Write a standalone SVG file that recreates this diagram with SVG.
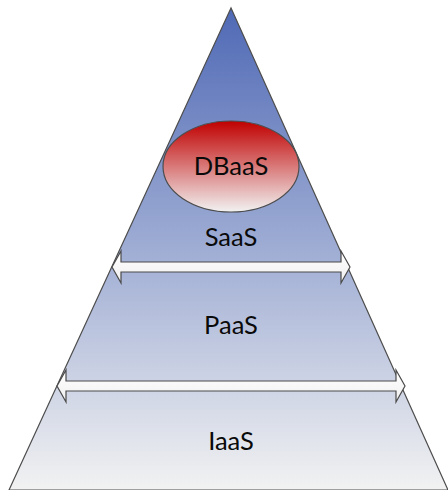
<svg xmlns="http://www.w3.org/2000/svg" width="448" height="490" viewBox="0 0 448 490">
<style>
text{font-family:"Lato","Liberation Sans",sans-serif;font-size:25.5px;fill:#0a0a0a;text-anchor:middle}
.arrow{fill:url(#arrowFill);stroke:#4a4a4a;stroke-width:1.2;stroke-linejoin:miter}
</style>
<defs>
<linearGradient id="pyr" x1="0" y1="0" x2="0" y2="1">
<stop offset="0" stop-color="#4f69b5"/><stop offset="0.5" stop-color="#9fadd4"/><stop offset="1" stop-color="#f2f2f2"/>
</linearGradient>
<linearGradient id="red" x1="0" y1="0" x2="0" y2="1">
<stop offset="0" stop-color="#c00000"/><stop offset="1" stop-color="#f2f2f2"/>
</linearGradient>
<linearGradient id="arrowFill" x1="0" y1="0" x2="0" y2="1">
<stop offset="0" stop-color="#ffffff"/><stop offset="1" stop-color="#f0f0f0"/>
</linearGradient>
</defs>
<g id="pyramid"><polygon points="231,8 9,490 448,490" fill="url(#pyr)" stroke="#4d4d4d" stroke-width="1.2"/></g>
<g id="dbaas"><ellipse cx="231" cy="166.500" rx="68" ry="45.500" fill="url(#red)" stroke="#4d4d4d" stroke-width="1.2"/><text x="231" y="175">DBaaS</text></g>
<g id="saas"><text x="231" y="246">SaaS</text></g>
<g id="paas"><text x="231" y="334">PaaS</text></g>
<g id="iaas"><text x="231" y="450">IaaS</text></g>
<g id="connectors">
<polygon class="arrow" points="112,267 121,251 121,262 341,262 341,251 350,267 341,283 341,272 121,272 121,283"/>
<polygon class="arrow" points="57,386 66,370 66,381 396,381 396,370 405,386 396,402 396,391 66,391 66,402"/>
</g>
</svg>
